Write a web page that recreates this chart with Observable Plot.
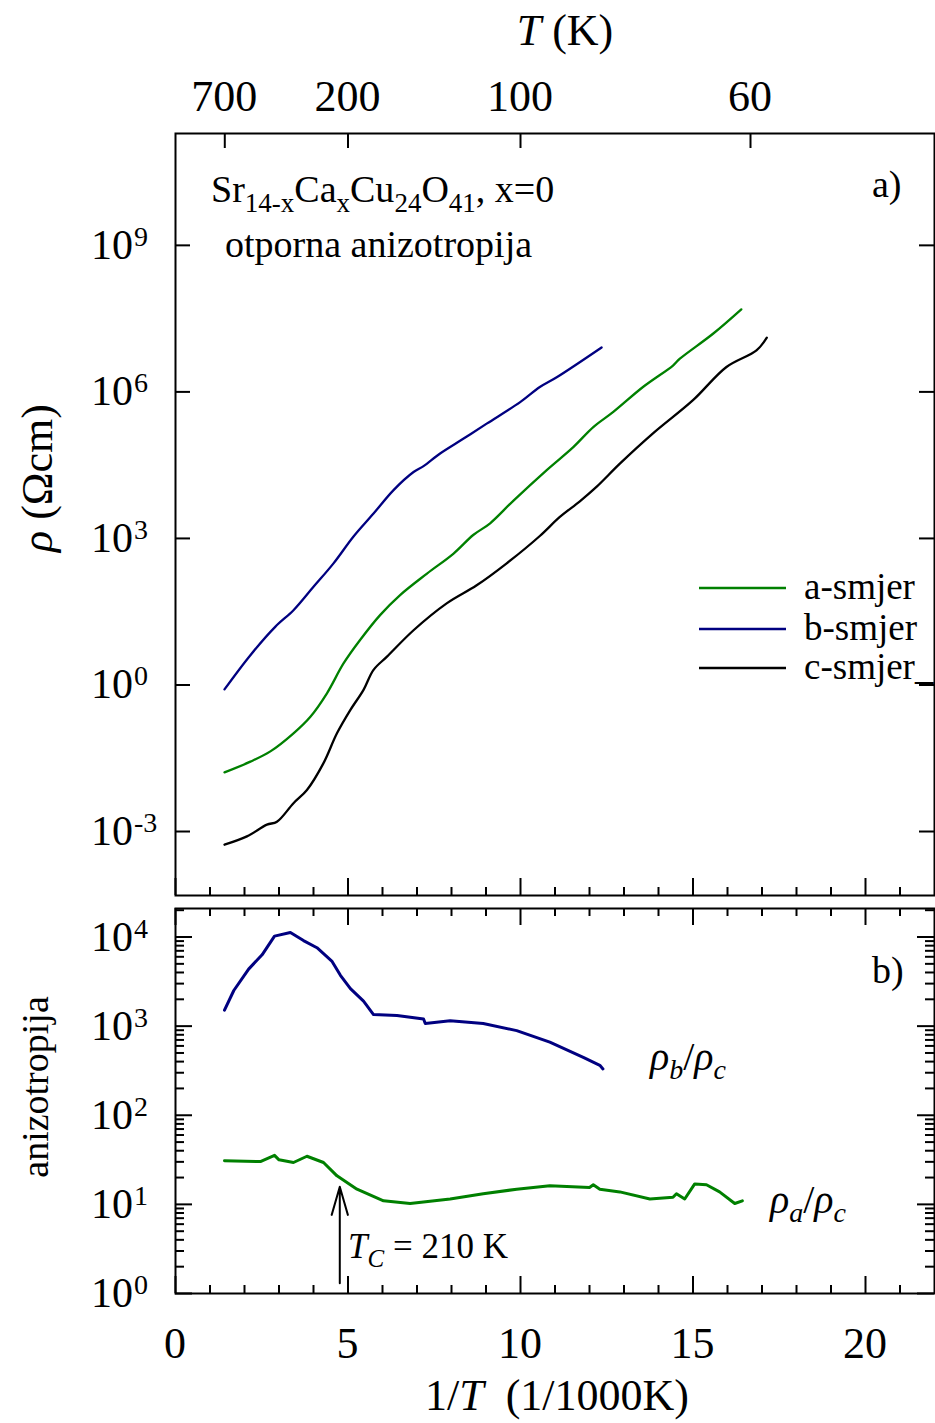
<!DOCTYPE html>
<html><head><meta charset="utf-8">
<script src="https://cdn.jsdelivr.net/npm/d3@7"></script>
<script src="https://cdn.jsdelivr.net/npm/@observablehq/plot@0.6"></script>
<style>body{margin:0;background:#fff} #chart svg{display:block}</style>
</head><body><div id="chart"></div><script>
const FONT = "Liberation Serif";

// ---- panel a) resistivity (x = 1000/T, values as log10 rho) ----
const aX = [1.42,2.17,2.75,3.42,3.91,4.39,4.87,5.35,5.93,6.51,7.29,8.06,8.63,9.12,9.79,10.76,11.53,12.11,12.69,13.55,14.42,14.62,15.58,16.40];
const aLogRho = [-1.79,-1.57,-1.36,-0.99,-0.65,-0.17,0.44,0.92,1.43,1.84,2.28,2.69,3.07,3.31,3.77,4.40,4.87,5.28,5.59,6.10,6.54,6.68,7.19,7.69];
const bX = [1.42,2.17,2.89,3.42,4.00,4.58,5.16,5.74,6.32,6.90,7.19,7.67,8.34,9.02,9.99,10.56,11.05,12.35];
const bLogRho = [-0.09,0.61,1.19,1.53,2.01,2.49,3.04,3.51,3.99,4.36,4.48,4.74,5.04,5.35,5.79,6.10,6.30,6.91];
const cX = [1.42,2.07,2.65,2.94,3.42,3.81,4.29,4.68,5.07,5.45,5.74,6.13,6.90,7.86,8.73,9.60,10.56,11.14,11.72,12.21,12.88,13.84,15.00,15.97,16.84,17.14];
const cLogRho = [-3.27,-3.10,-2.86,-2.80,-2.42,-2.15,-1.60,-0.99,-0.51,-0.10,0.31,0.58,1.12,1.67,2.04,2.49,3.05,3.44,3.76,4.06,4.53,5.15,5.83,6.51,6.85,7.11];

// ---- panel b) anisotropy (log10 ratio) ----
const bcX = [1.42,1.69,2.12,2.51,2.87,3.33,3.71,4.10,4.53,4.78,5.07,5.45,5.74,6.42,7.19,7.24,7.96,8.92,9.89,10.85,11.82,12.30,12.39];
const bcLog = [3.18,3.40,3.64,3.80,4.01,4.05,3.96,3.88,3.73,3.57,3.42,3.28,3.13,3.12,3.08,3.03,3.06,3.03,2.95,2.82,2.65,2.56,2.52];
const acX = [1.42,2.46,2.87,3.00,3.42,3.81,4.29,4.68,5.26,6.03,6.80,7.96,8.92,9.89,10.85,12.00,12.11,12.30,12.88,13.75,14.42,14.52,14.76,15.05,15.39,15.77,16.21,16.43];
const acLog = [1.49,1.48,1.55,1.50,1.47,1.54,1.47,1.32,1.17,1.04,1.01,1.06,1.12,1.17,1.21,1.19,1.22,1.17,1.14,1.06,1.08,1.12,1.06,1.23,1.22,1.14,1.01,1.04];

// ---- ticks / labels ----
const xMajor = [0,5,10,15,20];
const xMinor = [1,2,3,4,6,7,8,9,11,12,13,14,16,17,18,19,21];
const topT = [700,200,100,60];
const rhoExp = [-3,0,3,6,9];
const anisoExp = [0,1,2,3,4];
const Tc = 210;

const legendNames = ["a-smjer","b-smjer","c-smjer_"];
const GREEN = "#008000", BLUE = "#000080", BLACK = "#000000";

const W = 935;
const topH = 901, topMT = 133, topMB = 6, ML = 175, MR = 1;
const botH = 522, botMT = 7, botMB = 130;
const PW = W - ML - MR;
const topPH = topH - topMT - topMB;
const botPH = botH - botMT - botMB;

const pts = (xs, ls) => xs.map((x,i) => ({x, v: 10 ** ls[i]}));

const topPlot = Plot.plot({
  width: W, height: topH, marginLeft: ML, marginRight: MR, marginTop: topMT, marginBottom: topMB,
  style: {fontFamily: FONT, background: "white"},
  x: {domain: [0, 22], axis: null},
  y: {type: "log", domain: [10 ** -4.31, 10 ** 11.29], axis: null},
  marks: [
    Plot.line(pts(aX, aLogRho), {x: "x", y: "v", stroke: GREEN, strokeWidth: 2.3, curve: "catmull-rom"}),
    Plot.line(pts(bX, bLogRho), {x: "x", y: "v", stroke: BLUE, strokeWidth: 2.3, curve: "catmull-rom"}),
    Plot.line(pts(cX, cLogRho), {x: "x", y: "v", stroke: BLACK, strokeWidth: 2.3, curve: "catmull-rom"}),
    Plot.tickX(xMajor, {x: d => d, insetTop: topPH - 17, strokeWidth: 2}),
    Plot.tickX(xMinor, {x: d => d, insetTop: topPH - 8, strokeWidth: 2}),
    Plot.tickX(topT, {x: d => 1000 / d, insetBottom: topPH - 15, strokeWidth: 2}),
    Plot.tickY(rhoExp, {y: d => 10 ** d, insetRight: PW - 15, strokeWidth: 2}),
    Plot.tickY(rhoExp, {y: d => 10 ** d, insetLeft: PW - 15, strokeWidth: 2}),
    Plot.frame({stroke: "black", strokeWidth: 2})
  ]
});

const minorVals = [];
anisoExp.forEach(e => [2,3,4,5,6,7,8,9].forEach(k => { const v = k * 10 ** e; if (v < 10 ** 4.32) minorVals.push(v); }));

const botPlot = Plot.plot({
  width: W, height: botH, marginLeft: ML, marginRight: MR, marginTop: botMT, marginBottom: botMB,
  style: {fontFamily: FONT, background: "white"},
  x: {domain: [0, 22], axis: null},
  y: {type: "log", domain: [1, 10 ** 4.32], axis: null},
  marks: [
    Plot.line(pts(bcX, bcLog), {x: "x", y: "v", stroke: BLUE, strokeWidth: 3}),
    Plot.line(pts(acX, acLog), {x: "x", y: "v", stroke: GREEN, strokeWidth: 3}),
    Plot.arrow([Tc], {x1: d => 1000 / d, x2: d => 1000 / d, y1: 1.3, y2: 15.8, stroke: "black", strokeWidth: 2, headLength: 22, headAngle: 32}),
    Plot.tickX(xMajor, {x: d => d, insetTop: botPH - 17, strokeWidth: 2}),
    Plot.tickX(xMinor, {x: d => d, insetTop: botPH - 8, strokeWidth: 2}),
    Plot.tickX(xMajor, {x: d => d, insetBottom: botPH - 17, strokeWidth: 2}),
    Plot.tickX(xMinor, {x: d => d, insetBottom: botPH - 8, strokeWidth: 2}),
    Plot.tickY(anisoExp, {y: d => 10 ** d, insetRight: PW - 17, strokeWidth: 2}),
    Plot.tickY(anisoExp, {y: d => 10 ** d, insetLeft: PW - 17, strokeWidth: 2}),
    Plot.tickY(minorVals, {y: d => d, insetRight: PW - 9, strokeWidth: 2}),
    Plot.tickY(minorVals, {y: d => d, insetLeft: PW - 9, strokeWidth: 2}),
    Plot.frame({stroke: "black", strokeWidth: 2})
  ]
});

const chart = document.getElementById("chart");
chart.appendChild(topPlot);
chart.appendChild(botPlot);

function addText(svgNode, {x, y, anchor = "start", size = 38, rotate = 0}, parts) {
  const t = d3.select(svgNode).append("text").attr("x", x).attr("y", y)
    .attr("text-anchor", anchor).attr("font-size", size).attr("font-family", FONT).attr("fill", "black");
  if (rotate) t.attr("transform", `rotate(${rotate},${x},${y})`);
  parts.forEach(p => {
    if (typeof p === "string") p = {t: p};
    const s = t.append("tspan").text(p.t);
    if (p.i) s.attr("font-style", "italic");
    if (p.size) s.attr("font-size", p.size);
    if (p.dy) s.attr("dy", p.dy);
    if (p.dx) s.attr("dx", p.dx);
  });
  return t;
}

function logTickLabels(plot, exps) {
  const ys = plot.scale("y");
  exps.forEach(e => {
    const y = ys.apply(10 ** e);
    addText(plot, {x: 133, y: y + 14, anchor: "end", size: 42}, ["10"]);
    addText(plot, {x: 134, y: y + 1, anchor: "start", size: 28}, [String(e)]);
  });
}

// top panel texts
const xsTop = topPlot.scale("x");
addText(topPlot, {x: 565, y: 45, anchor: "middle", size: 44}, [{t: "T", i: true}, " (K)"]);
topT.forEach(T => addText(topPlot, {x: xsTop.apply(1000 / T), y: 111, anchor: "middle", size: 44}, [String(T)]));
logTickLabels(topPlot, rhoExp);
addText(topPlot, {x: 52, y: 478, anchor: "middle", size: 44, rotate: -90}, [{t: "ρ", i: true}, " (Ωcm)"]);
addText(topPlot, {x: 211, y: 202, size: 38}, [
  "Sr", {t: "14-x", size: 27, dy: 10}, {t: "Ca", dy: -10}, {t: "x", size: 27, dy: 10},
  {t: "Cu", dy: -10}, {t: "24", size: 27, dy: 10}, {t: "O", dy: -10}, {t: "41", size: 27, dy: 10}, {t: ", x=0", dy: -10}
]);
addText(topPlot, {x: 225, y: 257, size: 38}, ["otporna anizotropija"]);
addText(topPlot, {x: 872, y: 197, size: 38}, ["a)"]);

// legend
const legendColors = [GREEN, BLUE, BLACK];
const legendY = [588, 629, 668];
legendNames.forEach((n, i) => {
  d3.select(topPlot).append("line").attr("x1", 699).attr("x2", 786).attr("y1", legendY[i]).attr("y2", legendY[i])
    .attr("stroke", legendColors[i]).attr("stroke-width", 2.5);
  addText(topPlot, {x: 804, y: legendY[i] + 11, size: 37}, [n]);
});

// bottom panel texts
const xsBot = botPlot.scale("x");
logTickLabels(botPlot, anisoExp);
xMajor.forEach(v => addText(botPlot, {x: xsBot.apply(v), y: 457, anchor: "middle", size: 44}, [String(v)]));
addText(botPlot, {x: 557, y: 509, anchor: "middle", size: 44}, ["1/", {t: "T", i: true}, "  (1/1000K)"]);
addText(botPlot, {x: 48, y: 186, anchor: "middle", size: 38, rotate: -90}, ["anizotropija"]);
addText(botPlot, {x: 872, y: 82, size: 38}, ["b)"]);
addText(botPlot, {x: 650, y: 169, size: 40}, [{t: "ρ", i: true}, {t: "b", i: true, size: 28, dy: 9}, {t: "/", dy: -9}, {t: "ρ", i: true}, {t: "c", i: true, size: 28, dy: 9}]);
addText(botPlot, {x: 770, y: 312, size: 40}, [{t: "ρ", i: true}, {t: "a", i: true, size: 28, dy: 9}, {t: "/", dy: -9}, {t: "ρ", i: true}, {t: "c", i: true, size: 28, dy: 9}]);
addText(botPlot, {x: 348, y: 357, size: 35}, [{t: "T", i: true}, {t: "C", i: true, size: 25, dy: 9}, {t: " = 210 K", dy: -9}]);
</script></body></html>
